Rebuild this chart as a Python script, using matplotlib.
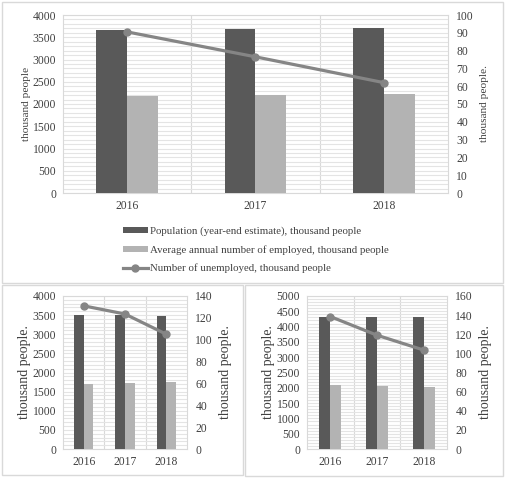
import numpy as np
import matplotlib
matplotlib.use("Agg")
import matplotlib.pyplot as plt
from matplotlib.patches import Rectangle
from matplotlib.ticker import MultipleLocator

plt.rcParams['font.family'] = ['Liberation Serif', 'DejaVu Serif']

years = ["2016", "2017", "2018"]

# top chart
top_population = [3665, 3685, 3705]
top_employed = [2180, 2200, 2225]
top_unemployed = [90.5, 76.5, 62.0]

# bottom-left chart
bl_population = [3510, 3495, 3480]
bl_employed = [1700, 1725, 1750]
bl_unemployed = [131, 123.5, 105]

# bottom-right chart
br_population = [4325, 4318, 4312]
br_employed = [2090, 2060, 2025]
br_unemployed = [138.5, 119, 103.5]

legend_labels = ["Population (year-end estimate), thousand people",
                 "Average annual number of employed, thousand people",
                 "Number of unemployed, thousand people"]

DARK = "#595959"
LIGHT = "#b3b3b3"
LINE = "#858585"
GRID = "#e4e4e4"
FRAME = "#d9d9d9"
TXT = "#404040"

W, H = 505, 478
fig = plt.figure(figsize=(W / 100, H / 100), dpi=100)


def px_axes(left, top, right, bottom):
    return fig.add_axes([left / W, 1 - bottom / H, (right - left) / W, (bottom - top) / H])


def draw_chart(ax, pop, emp, unemp, ymax, ystep, y2max, y2step, ylabel_l, ylabel_r, fs, lfs, bw):
    x = np.arange(len(years))
    ax.bar(x - bw / 2, pop, width=bw, color=DARK, zorder=3, label=legend_labels[0])
    ax.bar(x + bw / 2, emp, width=bw, color=LIGHT, zorder=3, label=legend_labels[1])
    ax.set_xlim(-0.5, len(years) - 0.5)
    ax.set_ylim(0, ymax)
    ax.yaxis.set_major_locator(MultipleLocator(ystep))
    ax.yaxis.set_minor_locator(MultipleLocator(100))
    ax.grid(which="both", axis="y", color=GRID, linewidth=0.8, zorder=0)
    for xb in np.arange(0.5, len(years) - 0.5, 1):
        ax.axvline(xb, color=FRAME, linewidth=0.8, zorder=0)
    ax.set_xticks(x)
    ax.set_xticklabels(years)
    ax.tick_params(axis="both", which="both", length=0, labelsize=fs, labelcolor=TXT)
    ax.tick_params(axis="x", pad=5)
    ax.tick_params(axis="y", pad=5)
    for s in ax.spines.values():
        s.set_color(FRAME)
        s.set_linewidth(0.8)
    ax.set_ylabel(ylabel_l, fontsize=lfs, color=TXT, labelpad=1)

    ax2 = ax.twinx()
    ax2.plot(x, unemp, color=LINE, linewidth=2.3, marker="o", markersize=5,
             zorder=4, label=legend_labels[2])
    ax2.set_ylim(0, y2max)
    ax2.yaxis.set_major_locator(MultipleLocator(y2step))
    ax2.tick_params(axis="y", which="both", length=0, labelsize=fs, labelcolor=TXT, pad=6)
    for s in ax2.spines.values():
        s.set_visible(False)
    ax2.set_ylabel(ylabel_r, fontsize=lfs, color=TXT, labelpad=4)
    return ax2


# top chart
ax_t = px_axes(63, 15, 448, 193)
ax_t2 = draw_chart(ax_t, top_population, top_employed, top_unemployed,
                   4000, 500, 100, 10, "thousand people", "thousand people.", 8.4, 8.2, 0.24)

handles = ax_t.get_legend_handles_labels()[0] + ax_t2.get_legend_handles_labels()[0]
fig.legend(handles, legend_labels, loc="center left", bbox_to_anchor=(123 / W, 1 - 250 / H),
           frameon=False, fontsize=7.8, labelspacing=0.8, handlelength=2.3,
           handleheight=0.45, handletextpad=0.2, borderpad=0, borderaxespad=0,
           labelcolor=TXT)

# bottom-left chart
ax_bl = px_axes(63, 296, 187, 449)
draw_chart(ax_bl, bl_population, bl_employed, bl_unemployed,
           4000, 500, 140, 20, "thousand people.", "thousand people.", 8.4, 10, 0.23)

# bottom-right chart
ax_br = px_axes(307, 296, 447, 449)
draw_chart(ax_br, br_population, br_employed, br_unemployed,
           5000, 500, 160, 20, "thousand people.", "thousand people.", 8.4, 10, 0.235)

# panel borders
for (l, t, r, b) in [(2, 2, 503, 283), (2, 285, 243, 475), (245, 285, 503, 476)]:
    fig.add_artist(Rectangle((l / W, 1 - b / H), (r - l) / W, (b - t) / H,
                             transform=fig.transFigure, fill=False,
                             edgecolor=FRAME, linewidth=1.0))

fig.savefig("out.png", dpi=100)
